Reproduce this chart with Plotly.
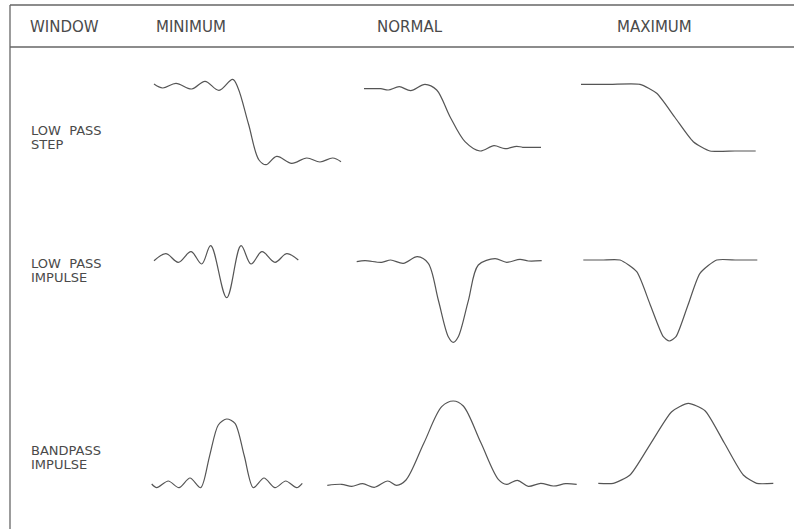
import plotly.graph_objects as go

# column / row labels
col_labels = ["WINDOW", "MINIMUM", "NORMAL", "MAXIMUM"]
row_labels = [("LOW  PASS", "STEP"), ("LOW  PASS", "IMPULSE"), ("BANDPASS", "IMPULSE")]

# waveforms (x, y in page units, y grows downward)
min_step_x = [154, 162.7, 176, 191.7, 205, 219, 232.7, 238, 248.5, 259, 266, 276.7, 291.7, 306.7, 320, 332.7, 341]
min_step_y = [84, 88, 83.3, 89, 81.3, 90.3, 79.3, 88, 124, 160, 164.7, 156.3, 163.3, 158, 162, 158, 161.7]

norm_step_x = [364, 380.7, 388.3, 399.3, 410.7, 425, 436.7, 450, 465, 480, 494, 505, 516.7, 522.7, 541]
norm_step_y = [88.7, 88.7, 90, 86.7, 90.7, 84.3, 90, 116.7, 141.7, 151, 145.7, 148.7, 146.3, 147.3, 147.3]

max_step_x = [581, 610, 640, 656.7, 675, 693.3, 710, 735, 755.7]
max_step_y = [84.3, 84.3, 84.3, 93.3, 117.5, 141.7, 151, 151, 151]

min_imp_x = [154, 166, 178.3, 191, 201.7, 210.7, 226.7, 241, 251, 262, 275, 286.7, 298.3]
min_imp_y = [260.7, 253.7, 262.3, 251.7, 264, 245.7, 297.7, 245.7, 264, 251.7, 262.3, 253.7, 260]

norm_imp_x = [356.7, 365, 381.7, 390.7, 403.3, 417.3, 428.3, 438.3, 448.3, 453.3, 458.3, 468.3, 478.3,
              495, 506.7, 520, 528.3, 541.7]
norm_imp_y = [261.7, 260.7, 262.3, 260, 263.3, 256.7, 263.3, 300, 336.7, 342.3, 336.7, 300.8, 265,
              258.7, 262.3, 259.3, 261, 260.7]

max_imp_x = [583.3, 602, 620, 636.7, 650, 663.3, 669.3, 676, 688, 700, 716.7, 737, 757.3]
max_imp_y = [260, 260, 260, 271.7, 304.2, 336.7, 341, 336.7, 305, 273.3, 260, 260, 260]

min_bp_x = [151.7, 156.7, 168.3, 179, 190, 200.7, 209.5, 218.3, 226.7, 235, 244.2, 253.3,
            264, 275, 285.7, 296.7, 302.3]
min_bp_y = [484, 487.7, 481, 487.7, 478, 487.7, 456.3, 425, 419, 423.3, 455.5, 487.7,
            478, 487.7, 481, 487.7, 483.3]

norm_bp_x = [327.3, 341.7, 351.7, 362.7, 374.3, 387.7, 396.7, 406, 423.8, 441.7, 453.3, 463.3, 480.8, 498.3,
             506.7, 517.3, 528.3, 540.7, 553.3, 565.7, 576.7]
norm_bp_y = [485.3, 484.3, 486.3, 483.7, 487.3, 481, 485.3, 480, 443.3, 406.7, 401, 406, 442.6, 479.3,
             484.3, 480.3, 486.3, 483.3, 486, 483.7, 484.3]

max_bp_x = [598.3, 613.3, 630, 650.8, 671.7, 688.3, 705, 724.2, 743.3, 756.7, 773.3]
max_bp_y = [483.3, 483.3, 475, 443.3, 411.7, 403.3, 410.7, 442.8, 475, 483.3, 483.3]

# (x, y, spline smoothing) - the rippled windows get a rounder spline
curves = [
    (min_step_x, min_step_y, 1.0), (norm_step_x, norm_step_y, 0.9), (max_step_x, max_step_y, 0.6),
    (min_imp_x, min_imp_y, 1.0), (norm_imp_x, norm_imp_y, 0.9), (max_imp_x, max_imp_y, 0.6),
    (min_bp_x, min_bp_y, 0.8), (norm_bp_x, norm_bp_y, 0.9), (max_bp_x, max_bp_y, 0.6),
]

INK = "#555555"
TEXT = "#4a4a4a"
W, H = 794, 529

fig = go.Figure()

for xs, ys, sm in curves:
    fig.add_trace(go.Scatter(
        x=xs, y=ys, mode="lines",
        line=dict(color=INK, width=1.2, shape="spline", smoothing=sm),
        hoverinfo="skip", showlegend=False,
    ))

# table frame: top rule, header rule, left rule
frame = [
    (10, 5, W, 5),
    (10, 47, W, 47),
    (10, 5, 10, H),
]
for x0, y0, x1, y1 in frame:
    fig.add_shape(type="line", x0=x0, y0=y0, x1=x1, y1=y1,
                  line=dict(color="#666666", width=1.3), layer="below")

# header text
col_x = [64, 191, 410, 654]
for label, cx in zip(col_labels, col_x):
    fig.add_annotation(x=cx, y=27, text=label, showarrow=False,
                       font=dict(family="DejaVu Sans", size=15, color=TEXT),
                       xanchor="center", yanchor="middle")

# row labels, two lines each set tight like the drawing
row_y = [130, 263, 450]
for (line1, line2), ry in zip(row_labels, row_y):
    for text, dy in ((line1, 0), (line2, 14)):
        fig.add_annotation(x=29, y=ry + dy, text=text, showarrow=False,
                           font=dict(family="DejaVu Sans", size=13, color=TEXT),
                           xanchor="left", yanchor="middle")

fig.update_layout(
    width=W, height=H,
    margin=dict(l=0, r=0, t=0, b=0),
    paper_bgcolor="white", plot_bgcolor="white",
    xaxis=dict(range=[0, W], visible=False, fixedrange=True),
    yaxis=dict(range=[H, 0], visible=False, fixedrange=True),
)

# drop the browser's default body margin so the drawing sits at the page origin
fig.write_html("out.html", config={"displayModeBar": False},
               post_script="document.body.style.margin='0';document.body.style.overflow='hidden';")
